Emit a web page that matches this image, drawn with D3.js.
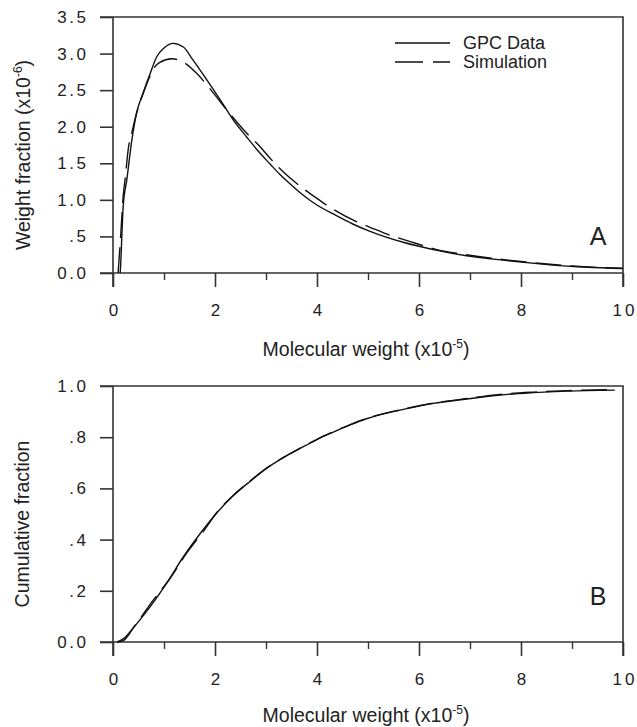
<!DOCTYPE html>
<html>
<head>
<meta charset="utf-8">
<script src="https://cdn.jsdelivr.net/npm/d3@7"></script>
<style>
    body { margin: 0; background: #fff; }
    text { font-family: "Liberation Sans", Arial, sans-serif; fill: #222; }
</style>
</head>
<body>
<svg id="canvas" width="637" height="727"></svg>
<script>
(function () {

    // Data. x is molecular weight (x10^5).
    var gpcWeightX = [0.14, 0.15, 0.16, 0.20, 0.27, 0.37, 0.46, 0.59, 0.73, 0.86, 0.99, 1.18, 1.38, 1.57, 1.84, 2.10, 2.36, 2.62, 2.88, 3.08, 3.27, 3.47, 3.70, 3.93, 4.39, 4.70, 5.04, 5.69, 6.35, 6.93, 7.72, 8.37, 9.03, 9.94, 10.0];
    var gpcWeightY = [0.00, 0.10, 0.27, 0.91, 1.27, 1.82, 2.18, 2.46, 2.73, 2.96, 3.07, 3.14, 3.09, 2.91, 2.64, 2.37, 2.09, 1.86, 1.64, 1.49, 1.35, 1.22, 1.08, 0.96, 0.78, 0.67, 0.57, 0.42, 0.31, 0.235, 0.17, 0.125, 0.088, 0.062, 0.06];

    var simWeightX = [0.10, 0.15, 0.20, 0.24, 0.30, 0.37, 0.46, 0.59, 0.73, 0.80, 0.92, 1.15, 1.41, 1.64, 1.97, 2.23, 2.65, 2.88, 3.08, 3.27, 3.54, 4.06, 4.25, 4.78, 5.04, 5.50, 5.69, 6.35, 6.93, 7.70, 8.40, 9.00, 10.0];
    var simWeightY = [0.00, 0.50, 1.05, 1.30, 1.70, 1.92, 2.18, 2.45, 2.70, 2.80, 2.88, 2.93, 2.87, 2.73, 2.46, 2.23, 1.89, 1.73, 1.57, 1.43, 1.26, 0.99, 0.90, 0.70, 0.625, 0.50, 0.46, 0.32, 0.25, 0.18, 0.13, 0.095, 0.065];

    var gpcCumX = [0.10, 0.20, 0.40, 0.73, 1.05, 1.38, 1.71, 2.03, 2.36, 2.69, 3.01, 3.34, 3.67, 3.99, 4.32, 4.65, 4.97, 5.63, 6.28, 6.94, 7.59, 8.24, 8.90, 9.84];
    var gpcCumY = [0.000, 0.005, 0.055, 0.138, 0.229, 0.333, 0.424, 0.503, 0.572, 0.628, 0.678, 0.720, 0.756, 0.790, 0.820, 0.848, 0.872, 0.906, 0.932, 0.949, 0.965, 0.974, 0.980, 0.984];

    var simCumX = [0.08, 0.20, 0.46, 0.73, 1.12, 1.44, 1.80, 2.03, 2.36, 2.69, 3.01, 3.34, 3.67, 3.99, 4.32, 4.65, 4.97, 5.63, 6.28, 6.94, 7.59, 8.24, 8.90, 9.84];
    var simCumY = [0.000, 0.012, 0.072, 0.148, 0.249, 0.346, 0.440, 0.505, 0.573, 0.629, 0.679, 0.721, 0.757, 0.791, 0.821, 0.849, 0.873, 0.907, 0.933, 0.951, 0.967, 0.976, 0.982, 0.986];

    var xMajorTicks = [0, 2, 4, 6, 8, 10];
    var xMinorTicks = [1, 3, 5, 7, 9];
    var weightTicks = [0, 0.5, 1.0, 1.5, 2.0, 2.5, 3.0, 3.5];
    var weightTickLabels = ["0.0", ".5", "1.0", "1.5", "2.0", "2.5", "3.0", "3.5"];
    var cumTicks = [0, 0.2, 0.4, 0.6, 0.8, 1.0];
    var cumTickLabels = ["0.0", ".2", ".4", ".6", ".8", "1.0"];
    var seriesNames = ["GPC Data", "Simulation"];

    var left = 113, right = 623;
    var axisColor = "#333";
    var dash = "26,9";
    var fontFamily = "'Liberation Sans', Arial, sans-serif";

    var svg = d3.select("#canvas");

    function zip(xs, ys) {
        return xs.map((x, i) => ({ x: x, y: ys[i] }));
    }

    function panel(opts) {
        var x = d3.scaleLinear().domain([0, 10]).range([left, right]);
        var y = d3.scaleLinear().domain(opts.yDomain).range([opts.bottom, opts.top]);
        var g = svg.append("g");

        // Frame: top and right sides, plus the left and bottom axis lines.
        g.append("path")
            .attr("fill", "none")
            .attr("stroke", axisColor)
            .attr("stroke-width", 1.6)
            .attr("d", "M" + (left - 13) + "," + opts.top + "H" + right + "V" + (opts.bottom + 14) +
                "M" + left + "," + opts.top + "V" + (opts.bottom + 14) +
                "M" + (left - 13) + "," + opts.bottom + "H" + right);

        // Y ticks.
        var yAxis = d3.axisLeft(y)
            .tickValues(opts.yTicks)
            .tickSize(13)
            .tickSizeOuter(0)
            .tickPadding(14)
            .tickFormat((d, i) => opts.yLabels[i]);
        var ya = g.append("g")
            .attr("transform", "translate(" + left + ",0)")
            .call(yAxis);
        ya.select(".domain").remove();
        ya.selectAll("line").attr("stroke", axisColor).attr("stroke-width", 1.6);
        ya.selectAll("text")
            .attr("font-size", 17)
            .attr("letter-spacing", "2.5px")
            .attr("dx", "2.5px")
            .attr("fill", "#222")
            .style("font-family", fontFamily);

        // X ticks, major and minor.
        var xAxis = d3.axisBottom(x)
            .tickValues(xMajorTicks)
            .tickSize(14)
            .tickSizeOuter(0)
            .tickPadding(17);
        var xa = g.append("g")
            .attr("transform", "translate(0," + opts.bottom + ")")
            .call(xAxis);
        xa.select(".domain").remove();
        xa.selectAll("line").attr("stroke", axisColor).attr("stroke-width", 1.6);
        xa.selectAll("text")
            .attr("font-size", 17)
            .attr("letter-spacing", "3px")
            .attr("dx", "1.5px")
            .attr("fill", "#222")
            .style("font-family", fontFamily);

        var xm = g.append("g")
            .attr("transform", "translate(0," + opts.bottom + ")")
            .call(d3.axisBottom(x).tickValues(xMinorTicks).tickSize(7).tickSizeOuter(0).tickFormat(""));
        xm.select(".domain").remove();
        xm.selectAll("line").attr("stroke", axisColor).attr("stroke-width", 1.4);

        // Curves.
        var line = d3.line()
            .x(d => x(d.x))
            .y(d => y(d.y))
            .curve(d3.curveMonotoneX);
        g.append("path")
            .datum(opts.gpc)
            .attr("fill", "none")
            .attr("stroke", "#111")
            .attr("stroke-width", 1.4)
            .attr("d", line);
        g.append("path")
            .datum(opts.sim)
            .attr("fill", "none")
            .attr("stroke", "#111")
            .attr("stroke-width", 1.4)
            .attr("stroke-dasharray", dash)
            .attr("d", line);

        // Axis titles.
        var yt = g.append("text")
            .attr("transform", "translate(" + opts.yTitleX + "," + ((opts.top + opts.bottom) / 2 + 10) + ") rotate(-90)")
            .attr("text-anchor", "middle")
            .attr("font-size", 19.5);
        yt.append("tspan").text(opts.yTitle);
        if (opts.yExp) {
            yt.append("tspan").attr("font-size", 12).attr("dy", -8).text(opts.yExp);
            yt.append("tspan").attr("dy", 8).text(")");
        }

        var xt = g.append("text")
            .attr("x", (left + right) / 2 - 2)
            .attr("y", opts.bottom + opts.xTitleOffset)
            .attr("text-anchor", "middle")
            .attr("font-size", 19.5);
        xt.append("tspan").text("Molecular weight (x10");
        xt.append("tspan").attr("font-size", 12).attr("dy", -8).text("-5");
        xt.append("tspan").attr("dy", 8).text(")");

        // Panel letter.
        g.append("text")
            .attr("x", 598)
            .attr("y", opts.bottom - opts.letterOffset)
            .attr("text-anchor", "middle")
            .attr("font-size", 25)
            .text(opts.letter);

        return g;
    }

    var gA = panel({
        top: 17, bottom: 273,
        yDomain: [0, 3.5], yTicks: weightTicks, yLabels: weightTickLabels,
        gpc: zip(gpcWeightX, gpcWeightY), sim: zip(simWeightX, simWeightY),
        yTitle: "Weight fraction (x10", yExp: "-6", yTitleX: 30,
        letter: "A", letterOffset: 28, xTitleOffset: 83
    });

    panel({
        top: 386, bottom: 642,
        yDomain: [0, 1], yTicks: cumTicks, yLabels: cumTickLabels,
        gpc: zip(gpcCumX, gpcCumY), sim: zip(simCumX, simCumY),
        yTitle: "Cumulative fraction", yExp: null, yTitleX: 29,
        letter: "B", letterOffset: 37, xTitleOffset: 80
    });

    // Legend in panel A.
    var legend = gA.append("g");
    seriesNames.forEach(function (name, i) {
        var ly = 43 + i * 19;
        legend.append("line")
            .attr("x1", 395).attr("x2", 450)
            .attr("y1", ly).attr("y2", ly)
            .attr("stroke", "#111")
            .attr("stroke-width", 1.4)
            .attr("stroke-dasharray", i === 1 ? "28,10" : null);
        legend.append("text")
            .attr("x", 463)
            .attr("y", ly + 6)
            .attr("font-size", 18)
            .text(name);
    });

})();
</script>
</body>
</html>
